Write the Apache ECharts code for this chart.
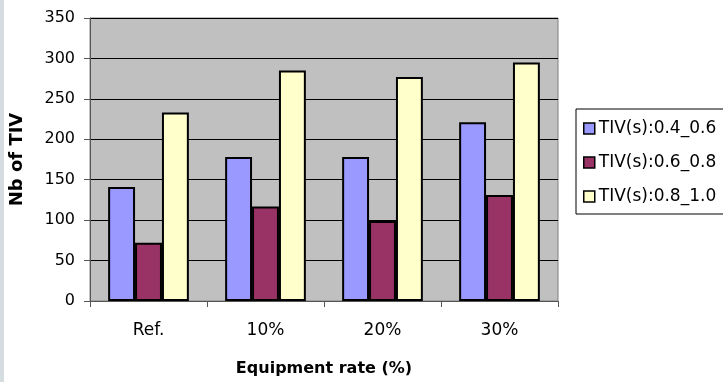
<!DOCTYPE html>
<html>
<head>
<meta charset="utf-8">
<script src="https://cdn.jsdelivr.net/npm/echarts@6/dist/echarts.min.js"></script>
<style>
  html, body { margin: 0; padding: 0; background: #fff; }
  #chart { width: 723px; height: 382px; }
</style>
</head>
<body>
<div id="chart"></div>
<script>
// categories on the x axis
const categories = ['Ref.', '10%', '20%', '30%'];
// series names
const seriesNames = ['TIV(s):0.4_0.6', 'TIV(s):0.6_0.8', 'TIV(s):0.8_1.0'];
// values
const tiv04 = [141, 178, 178, 221];
const tiv06 = [72, 117, 99, 131];
const tiv08 = [233, 285, 277, 295];
const colors = ['#9999ff', '#993366', '#ffffcc'];

const chart = echarts.init(document.getElementById('chart'), null, { renderer: 'canvas' });

function bar(name, data, color) {
  return {
    name: name,
    type: 'bar',
    data: data,
    barGap: '0%',
    barCategoryGap: '31%',
    itemStyle: { color: color, borderColor: '#000', borderWidth: 2 }
  };
}

const option = {
  backgroundColor: '#fff',
  animation: false,
  textStyle: { fontFamily: 'DejaVu Sans, sans-serif' },
  graphic: [{
    type: 'rect',
    shape: { x: 0, y: 0, width: 4, height: 382 },
    style: { fill: '#d6dde1' }
  }],
  grid: {
    left: 90, right: 165, top: 18, bottom: 79,
    show: true,
    backgroundColor: '#c0c0c0',
    borderColor: '#808080',
    borderWidth: 1
  },
  legend: {
    orient: 'vertical',
    left: 576, top: 109,
    padding: [11, 10, 9, 7],
    itemGap: 17,
    itemWidth: 11, itemHeight: 11,
    icon: 'rect',
    borderColor: '#000', borderWidth: 1,
    backgroundColor: '#fff',
    textStyle: { fontSize: 17, color: '#000', padding: [0, 0, 0, -1] },
    itemStyle: { borderColor: '#000', borderWidth: 1.5 },
    data: seriesNames
  },
  xAxis: {
    type: 'category',
    data: categories,
    name: 'Equipment rate (%)',
    nameLocation: 'middle',
    nameGap: 60,
    nameTextStyle: { fontSize: 16, fontWeight: 'bold', color: '#000' },
    axisLine: { lineStyle: { color: '#555', width: 1 } },
    axisTick: { show: true, length: 6, lineStyle: { color: '#555' } },
    axisLabel: { fontSize: 17, color: '#000', margin: 21 }
  },
  yAxis: {
    type: 'value',
    min: 0, max: 350, interval: 50,
    name: 'Nb of TIV',
    nameLocation: 'middle',
    nameGap: 64,
    nameRotate: 90,
    nameTextStyle: { fontSize: 18, fontWeight: 'bold', color: '#000' },
    axisLine: { show: true, lineStyle: { color: '#555', width: 1 } },
    axisTick: { show: true, length: 6, lineStyle: { color: '#555' } },
    axisLabel: { fontSize: 16, color: '#000', margin: 15 },
    splitLine: { lineStyle: { color: '#000', width: 1 } }
  },
  series: [
    bar(seriesNames[0], tiv04, colors[0]),
    bar(seriesNames[1], tiv06, colors[1]),
    bar(seriesNames[2], tiv08, colors[2])
  ]
};

chart.setOption(option);
</script>
</body>
</html>
